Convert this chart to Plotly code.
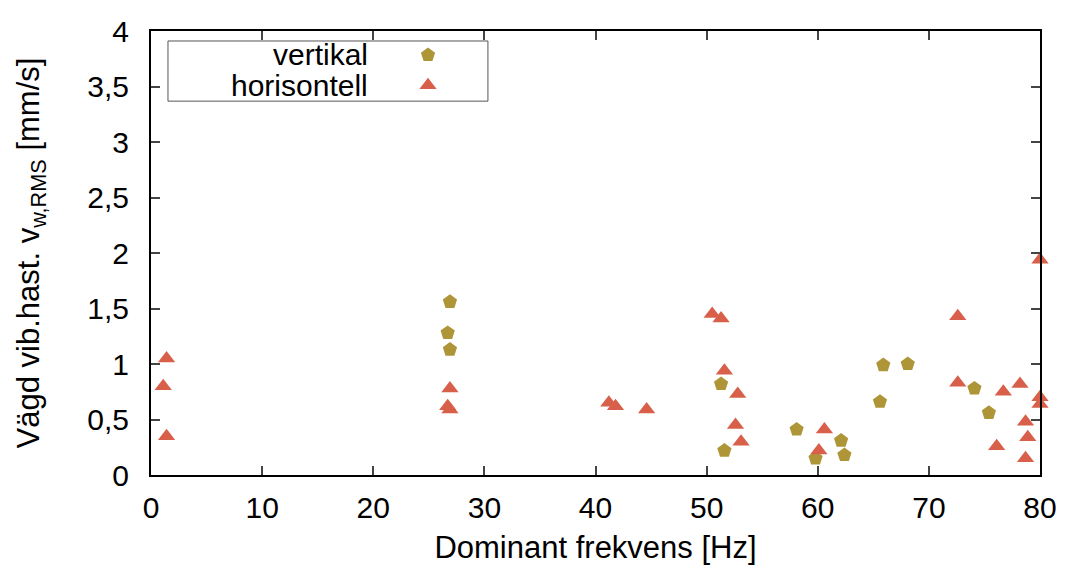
import plotly.graph_objects as go

# Data
vert_x = [26.9, 26.7, 26.9, 51.3, 51.6, 58.1, 59.8, 62.1, 62.4, 65.6, 65.9, 68.1, 74.1, 75.4]
vert_y = [1.56, 1.28, 1.13, 0.82, 0.22, 0.41, 0.15, 0.31, 0.18, 0.66, 0.99, 1.00, 0.78, 0.56]

hor_x = [1.4, 1.1, 1.4, 26.9, 26.7, 26.9, 41.2, 41.8, 44.6, 50.5, 51.3, 51.6, 52.8, 52.6,
         53.1, 60.6, 60.1, 72.6, 72.6, 76.7, 78.2, 80.0, 80.0, 80.0, 78.7, 78.9, 76.1, 78.7]
hor_y = [1.05, 0.80, 0.35, 0.78, 0.62, 0.59, 0.65, 0.62, 0.59, 1.45, 1.41, 0.94, 0.73, 0.45,
         0.30, 0.41, 0.22, 1.43, 0.83, 0.75, 0.82, 1.94, 0.70, 0.64, 0.48, 0.34, 0.26, 0.15]

series_names = ["vertikal", "horisontell"]
x_tickvals = [0, 10, 20, 30, 40, 50, 60, 70, 80]
x_ticktext = ["0", "10", "20", "30", "40", "50", "60", "70", "80"]
y_tickvals = [0, 0.5, 1, 1.5, 2, 2.5, 3, 3.5, 4]
y_ticktext = ["0", "0,5", "1", "1,5", "2", "2,5", "3", "3,5", "4"]

C_VERT = "#ae9638"
C_HOR = "#d8604a"
FONT = "Liberation Sans, Arial, sans-serif"
FS = 30
FS_T = 31

fig = go.Figure()
fig.add_trace(go.Scatter(x=vert_x, y=vert_y, mode="markers", name=series_names[0],
                         marker=dict(symbol="pentagon", size=15, color=C_VERT, line=dict(width=0)),
                         cliponaxis=False, showlegend=False))
fig.add_trace(go.Scatter(x=hor_x, y=hor_y, mode="markers", name=series_names[1],
                         marker=dict(symbol="triangle-up", size=15, color=C_HOR, line=dict(width=0)),
                         cliponaxis=False, showlegend=False))

# manual legend (text right-aligned, symbol to the right) on an overlay axis [0,1]
leg_sym_x = 0.3116
leg_rows_y = [0.946, 0.878]
fig.add_trace(go.Scatter(x=[leg_sym_x], y=[leg_rows_y[0]], mode="markers", xaxis="x2", yaxis="y2",
                         marker=dict(symbol="pentagon", size=15, color=C_VERT), showlegend=False,
                         hoverinfo="skip", cliponaxis=False))
fig.add_trace(go.Scatter(x=[leg_sym_x], y=[leg_rows_y[1]], mode="markers", xaxis="x2", yaxis="y2",
                         marker=dict(symbol="triangle-up", size=15, color=C_HOR), showlegend=False,
                         hoverinfo="skip", cliponaxis=False))
for name, yy in zip(series_names, leg_rows_y):
    fig.add_annotation(x=0.246, y=yy, xref="paper", yref="paper", text=name, showarrow=False,
                       xanchor="right", yanchor="middle", font=dict(family=FONT, size=FS, color="black"))
fig.add_shape(type="rect", xref="paper", yref="paper", x0=0.0191, x1=0.379, y0=0.842, y1=0.9775,
              line=dict(color="#555555", width=1), fillcolor="rgba(0,0,0,0)")

axis_common = dict(showgrid=False, zeroline=False, showline=True, linecolor="black", linewidth=2,
                   mirror="ticks", ticks="inside", ticklen=9, tickwidth=1.5, tickcolor="#444444",
                   tickfont=dict(family=FONT, size=FS, color="black"), automargin=False)

fig.update_layout(
    width=1065, height=568,
    margin=dict(l=151, r=25, t=31, b=93),
    paper_bgcolor="white", plot_bgcolor="white",
    font=dict(family=FONT, size=FS, color="black"),
    separators=",.",
    xaxis=dict(range=[0, 80], tickvals=x_tickvals, ticktext=x_ticktext,
               title=dict(text="Dominant frekvens [Hz]", font=dict(family=FONT, size=FS_T), standoff=13),
               ticklabelstandoff=5, **axis_common),
    yaxis=dict(range=[0, 4], tickvals=y_tickvals, ticktext=y_ticktext,
               title=dict(text="Vägd vib.hast. v<sub>w,RMS</sub> [mm/s]", font=dict(family=FONT, size=FS_T), standoff=38),
               ticklabelstandoff=14, **axis_common),
    xaxis2=dict(range=[0, 1], domain=[0, 1], overlaying="x", anchor="y2", visible=False, fixedrange=True),
    yaxis2=dict(range=[0, 1], domain=[0, 1], overlaying="y", anchor="x2", visible=False, fixedrange=True),
    showlegend=False,
)

fig.write_html("out.html")
